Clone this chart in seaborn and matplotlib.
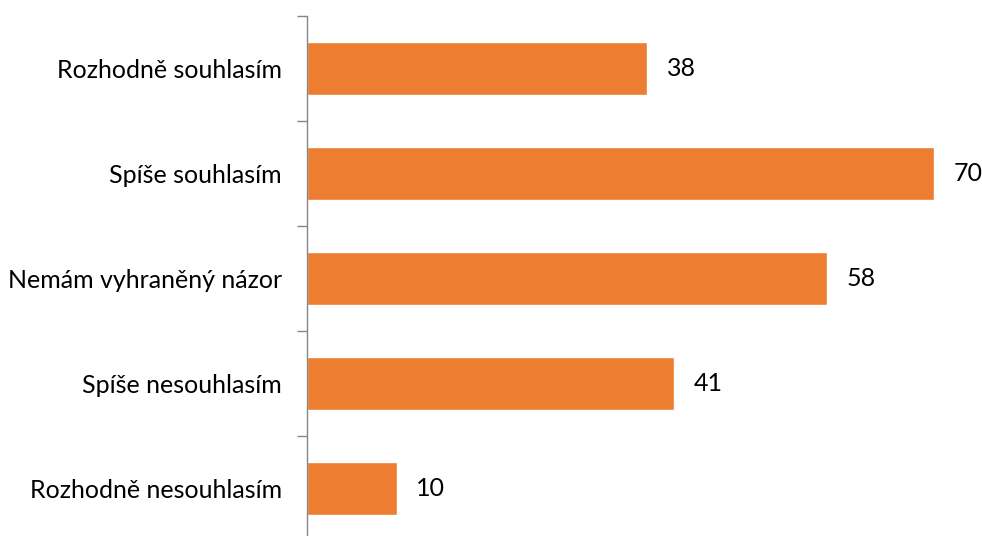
import matplotlib
matplotlib.use("Agg")
import matplotlib.pyplot as plt
import seaborn as sns
import pandas as pd
from matplotlib.ticker import FixedLocator

# data
kategorie = ["Rozhodně souhlasím", "Spíše souhlasím", "Nemám vyhraněný názor",
             "Spíše nesouhlasím", "Rozhodně nesouhlasím"]
pocet = [38, 70, 58, 41, 10]

sns.set_style("white")
plt.rcParams["font.family"] = ["Lato", "DejaVu Sans"]

df = pd.DataFrame({"kategorie": kategorie, "pocet": pocet})

fig = plt.figure(figsize=(9.82, 5.36), dpi=100)
ax = fig.add_axes([307 / 982, 1 - 541 / 536, (982 - 307) / 982, 525 / 536])

sns.barplot(data=df, x="pocet", y="kategorie", color="#ED7D31", saturation=1,
            width=0.5, ax=ax)

ax.set_xlim(0, 675 / 8.96)
ax.set_ylim(4.5, -0.5)
ax.set_xlabel("")
ax.set_ylabel("")
ax.set_xticks([])

# popisky hodnot
ax.bar_label(ax.containers[0], labels=[str(v) for v in pocet], padding=14,
             fontsize=18, color="#000000")

# osa
for s in ["top", "right", "bottom"]:
    ax.spines[s].set_visible(False)
ax.spines["left"].set_color("#868686")
ax.spines["left"].set_linewidth(1.0)

ax.yaxis.set_minor_locator(FixedLocator([-0.5, 0.5, 1.5, 2.5, 3.5, 4.5]))
ax.tick_params(axis="y", which="minor", length=7, width=1, color="#868686", left=True)
ax.tick_params(axis="y", which="major", length=0, pad=18, labelsize=18, labelcolor="#000000")

plt.savefig("out.png", dpi=100)
